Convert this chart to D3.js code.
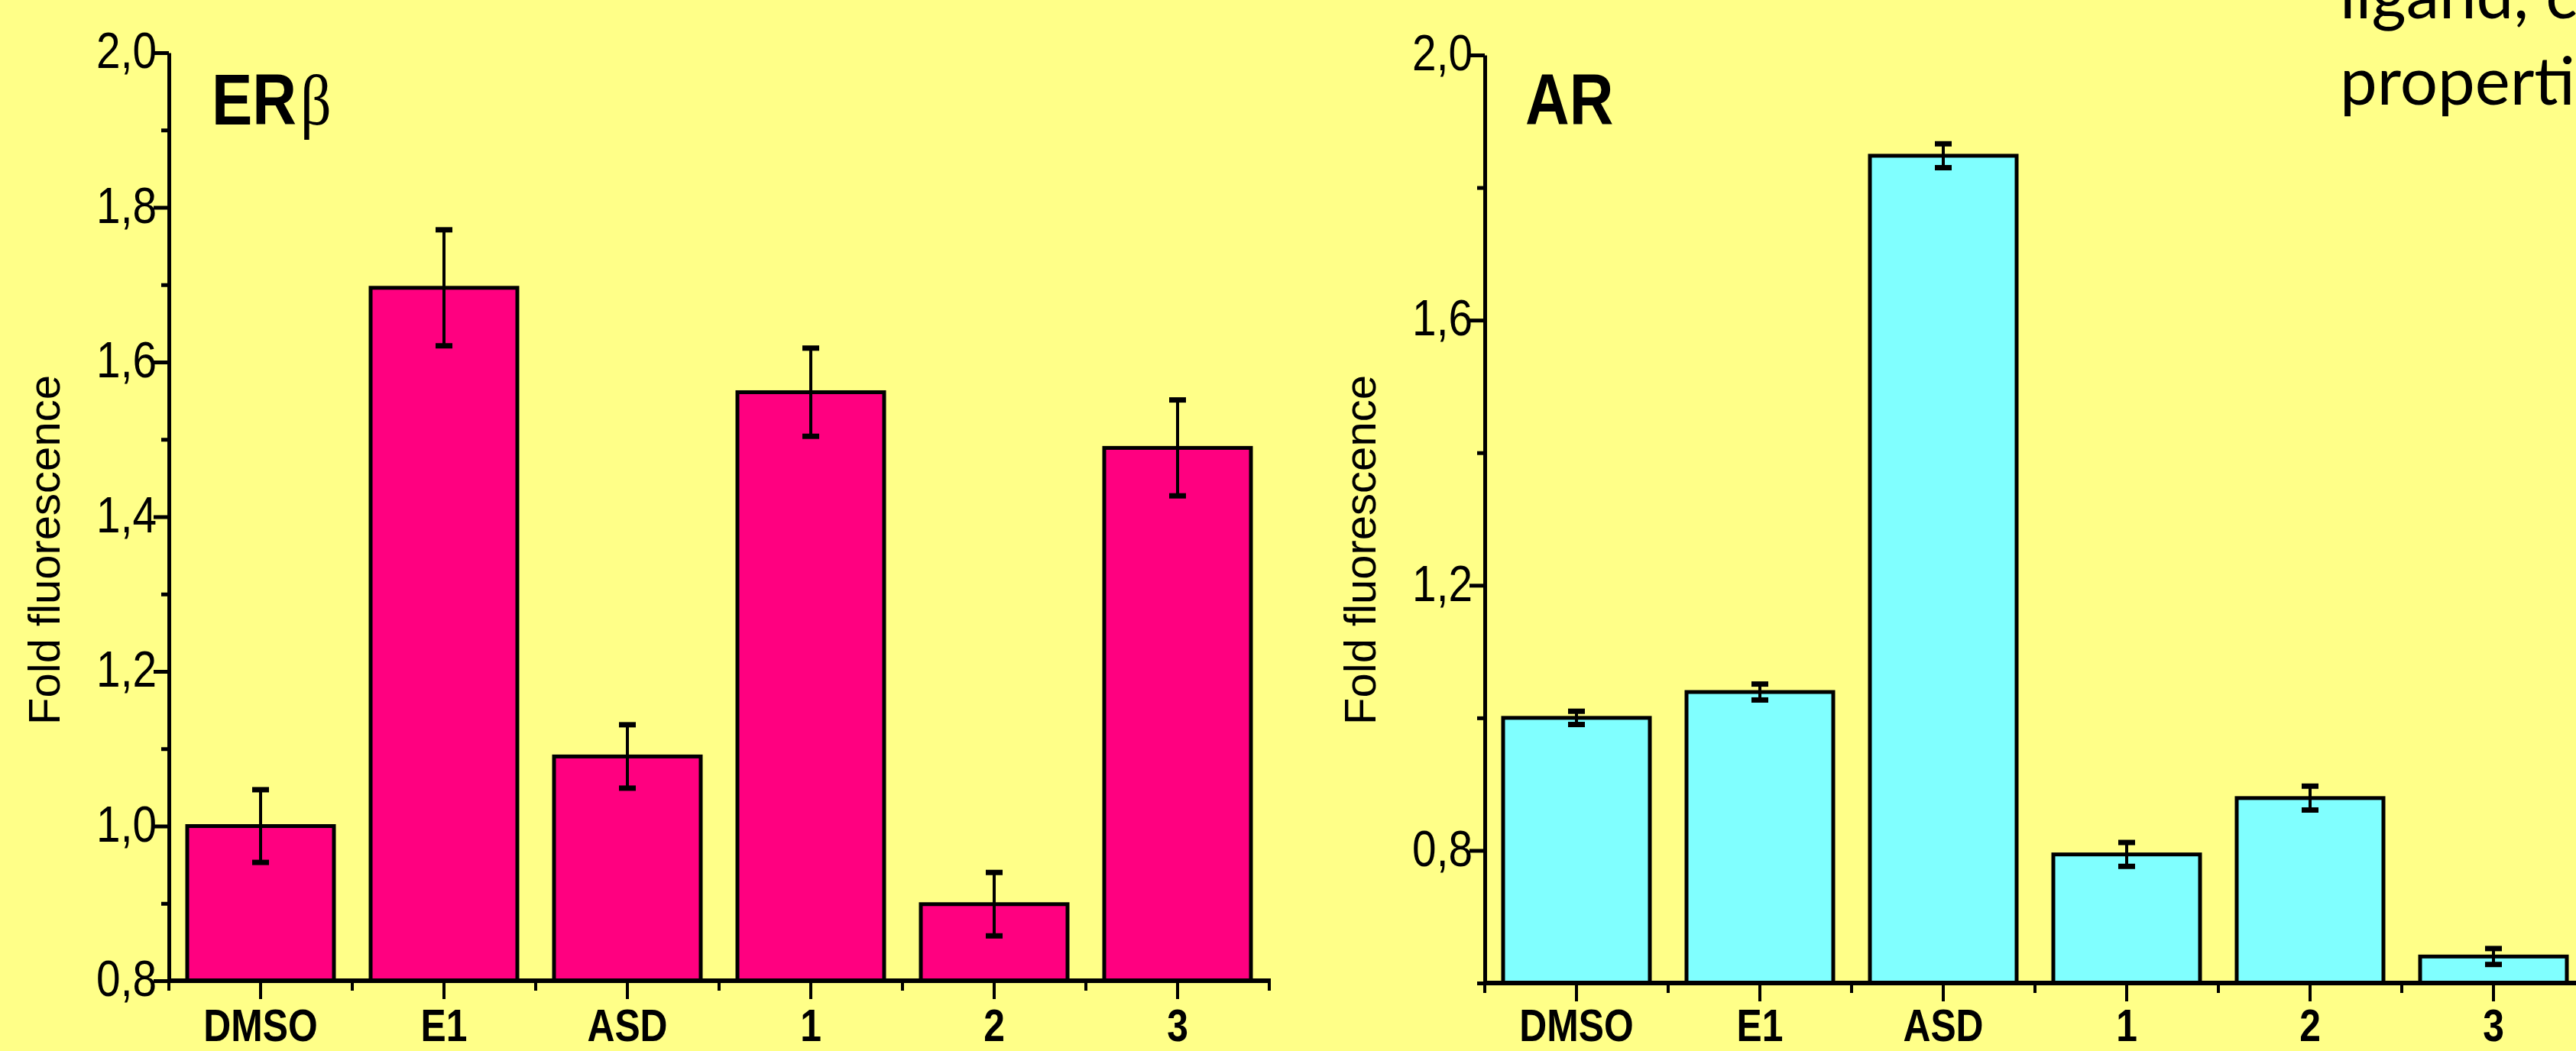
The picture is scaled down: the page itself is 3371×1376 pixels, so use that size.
<!DOCTYPE html>
<html>
<head>
<meta charset="utf-8">
<script src="https://cdn.jsdelivr.net/npm/d3@7"></script>
<style>
html,body{margin:0;padding:0;background:#FFFF88;overflow:hidden;}
svg{display:block;}
</style>
</head>
<body>
<svg id="chart" width="3371" height="1376"></svg>
<script>
// ---- data ----
const categories = ["DMSO", "E1", "ASD", "1", "2", "3"];
const erbValues = [1.000, 1.696, 1.090, 1.561, 0.899, 1.489];
const erbErrors = [0.047, 0.075, 0.041, 0.057, 0.041, 0.062];
const arValues  = [1.000, 1.039, 1.848, 0.794, 0.879, 0.640];
const arErrors  = [0.010, 0.012, 0.018, 0.018, 0.018, 0.012];
const erbMajorTicks = [0.8, 1.0, 1.2, 1.4, 1.6, 1.8, 2.0];
const erbMinorTicks = [0.9, 1.1, 1.3, 1.5, 1.7, 1.9];
const arMajorTicks = [0.8, 1.2, 1.6, 2.0];
const arMinorTicks = [0.6, 1.0, 1.4, 1.8];
const erbDomain = [0.8, 2.0];
const arDomain = [0.6, 2.0];
const yAxisTitle = "Fold fluorescence";
const slideLines = ["ligand, c", "properti"];

const NARROW = 0.86;
const svg = d3.select("#chart");
svg.append("rect").attr("width", 3371).attr("height", 1376).attr("fill", "#FFFF88");

const fmt = d => d.toFixed(1).replace(".", ",");

function drawChart(cfg) {
  const g = svg.append("g");
  const x = d3.scaleBand().domain(categories)
    .range([cfg.x0, cfg.x0 + 1440]).paddingInner(0.2).paddingOuter(0.1);
  const y = d3.scaleLinear().domain(cfg.domain).range([cfg.yBottom, cfg.yTop]);
  const bw = x.bandwidth();
  const data = categories.map((c, i) => ({c, v: cfg.values[i], e: cfg.errors[i]}));

  // bars
  g.selectAll("rect.bar").data(data).join("rect")
    .attr("class", "bar")
    .attr("x", d => x(d.c))
    .attr("y", d => y(d.v))
    .attr("width", bw)
    .attr("height", d => cfg.yBottom - y(d.v))
    .attr("fill", cfg.color)
    .attr("stroke", "#000")
    .attr("stroke-width", 5);

  // error bars
  const eb = g.selectAll("g.err").data(data).join("g").attr("class", "err");
  eb.append("line")
    .attr("x1", d => x(d.c) + bw / 2).attr("x2", d => x(d.c) + bw / 2)
    .attr("y1", d => y(d.v + d.e)).attr("y2", d => y(d.v - d.e))
    .attr("stroke", "#000").attr("stroke-width", 4);
  [1, -1].forEach(s => {
    eb.append("rect")
      .attr("x", d => x(d.c) + bw / 2 - 11)
      .attr("y", d => y(d.v + s * d.e) - 3.5)
      .attr("width", 22).attr("height", 7)
      .attr("fill", "#000");
  });

  // y axis: minor ticks
  const yMinor = g.append("g").attr("transform", `translate(${cfg.x0},0)`)
    .call(d3.axisLeft(y).tickValues(cfg.minor).tickSize(10).tickSizeOuter(0).tickFormat(""));
  yMinor.select(".domain").remove();
  yMinor.selectAll(".tick line").attr("stroke", "#000").attr("stroke-width", 5);

  // y axis: major ticks + labels
  const yMajor = g.append("g").attr("transform", `translate(${cfg.x0},0)`)
    .call(d3.axisLeft(y).tickValues(cfg.major).tickSize(20).tickSizeOuter(0).tickFormat(fmt));
  yMajor.attr("font-size", 66).attr("font-family", "'Liberation Sans', Arial, sans-serif");
  yMajor.select(".domain").attr("stroke", "#000").attr("stroke-width", 5);
  yMajor.selectAll(".tick line").attr("stroke", "#000").attr("stroke-width", 5);
  yMajor.selectAll(".tick text")
    .attr("font-family", "'Liberation Sans', Arial, sans-serif")
    .attr("font-size", 66)
    .attr("fill", "#000")
    .attr("x", -16 / NARROW)
    .attr("dy", "0.3em")
    .attr("transform", `scale(${NARROW},1)`);

  // x axis line
  const [r0, r1] = x.range();
  g.append("line")
    .attr("x1", r0 - 2).attr("x2", r1 + 2)
    .attr("y1", cfg.yBottom).attr("y2", cfg.yBottom)
    .attr("stroke", "#000").attr("stroke-width", 6);
  // x minor ticks at category boundaries
  const bounds = categories.map(c => x(c) - x.step() * x.paddingInner() / 2);
  bounds.push(bounds[bounds.length - 1] + x.step());
  g.selectAll("line.xminor").data(bounds).join("line")
    .attr("x1", d => d).attr("x2", d => d)
    .attr("y1", cfg.yBottom).attr("y2", cfg.yBottom + 13)
    .attr("stroke", "#000").attr("stroke-width", 4);
  // x major ticks
  g.selectAll("line.xmajor").data(categories).join("line")
    .attr("x1", c => x(c) + bw / 2).attr("x2", c => x(c) + bw / 2)
    .attr("y1", cfg.yBottom).attr("y2", cfg.yBottom + 24)
    .attr("stroke", "#000").attr("stroke-width", 4);
  // x labels
  g.selectAll("g.xlab").data(categories).join("g")
    .attr("transform", c => `translate(${x(c) + bw / 2},1363)`)
    .append("text")
    .attr("transform", `scale(0.83,1)`)
    .attr("text-anchor", "middle")
    .attr("font-family", "'Liberation Sans', Arial, sans-serif")
    .attr("font-weight", "bold")
    .attr("font-size", 60)
    .attr("fill", "#000")
    .text(c => c);

  // panel title
  const t = g.append("g").attr("transform", `translate(${cfg.titleX},163)`)
    .append("text")
    .attr("transform", `scale(0.85,1)`)
    .attr("font-size", 94)
    .attr("fill", "#000");
  t.append("tspan")
    .attr("font-family", "'Liberation Sans', Arial, sans-serif")
    .attr("font-weight", "bold")
    .text(cfg.title[0]);
  if (cfg.title[1]) {
    t.append("tspan")
      .attr("font-family", "'Liberation Serif', 'Times New Roman', serif")
      .attr("font-size", 94)
      .attr("dx", 6)
      .text(cfg.title[1]);
  }

  // y axis title
  g.append("text")
    .attr("transform", `translate(${cfg.yTitleX},720) rotate(-90)`)
    .attr("text-anchor", "middle")
    .attr("font-family", "'Liberation Sans', Arial, sans-serif")
    .attr("font-size", 58)
    .attr("fill", "#000")
    .text(yAxisTitle);
}

drawChart({
  x0: 221, yTop: 69, yBottom: 1284, domain: erbDomain,
  values: erbValues, errors: erbErrors, color: "#FF0080",
  major: erbMajorTicks, minor: erbMinorTicks,
  title: ["ER", "β"], titleX: 277, yTitleX: 78
});
drawChart({
  x0: 1943, yTop: 72, yBottom: 1287, domain: arDomain,
  values: arValues, errors: arErrors, color: "#80FFFF",
  major: arMajorTicks, minor: arMinorTicks,
  title: ["AR"], titleX: 1996, yTitleX: 1800
});

// partial slide text at top right
svg.selectAll("text.slide").data(slideLines).join("text")
  .attr("class", "slide")
  .attr("x", 3062)
  .attr("y", (d, i) => 24 + i * 113)
  .attr("font-family", "Lato, 'Open Sans', sans-serif")
  .attr("font-size", 87)
  .attr("fill", "#000")
  .text(d => d);
</script>
</body>
</html>
